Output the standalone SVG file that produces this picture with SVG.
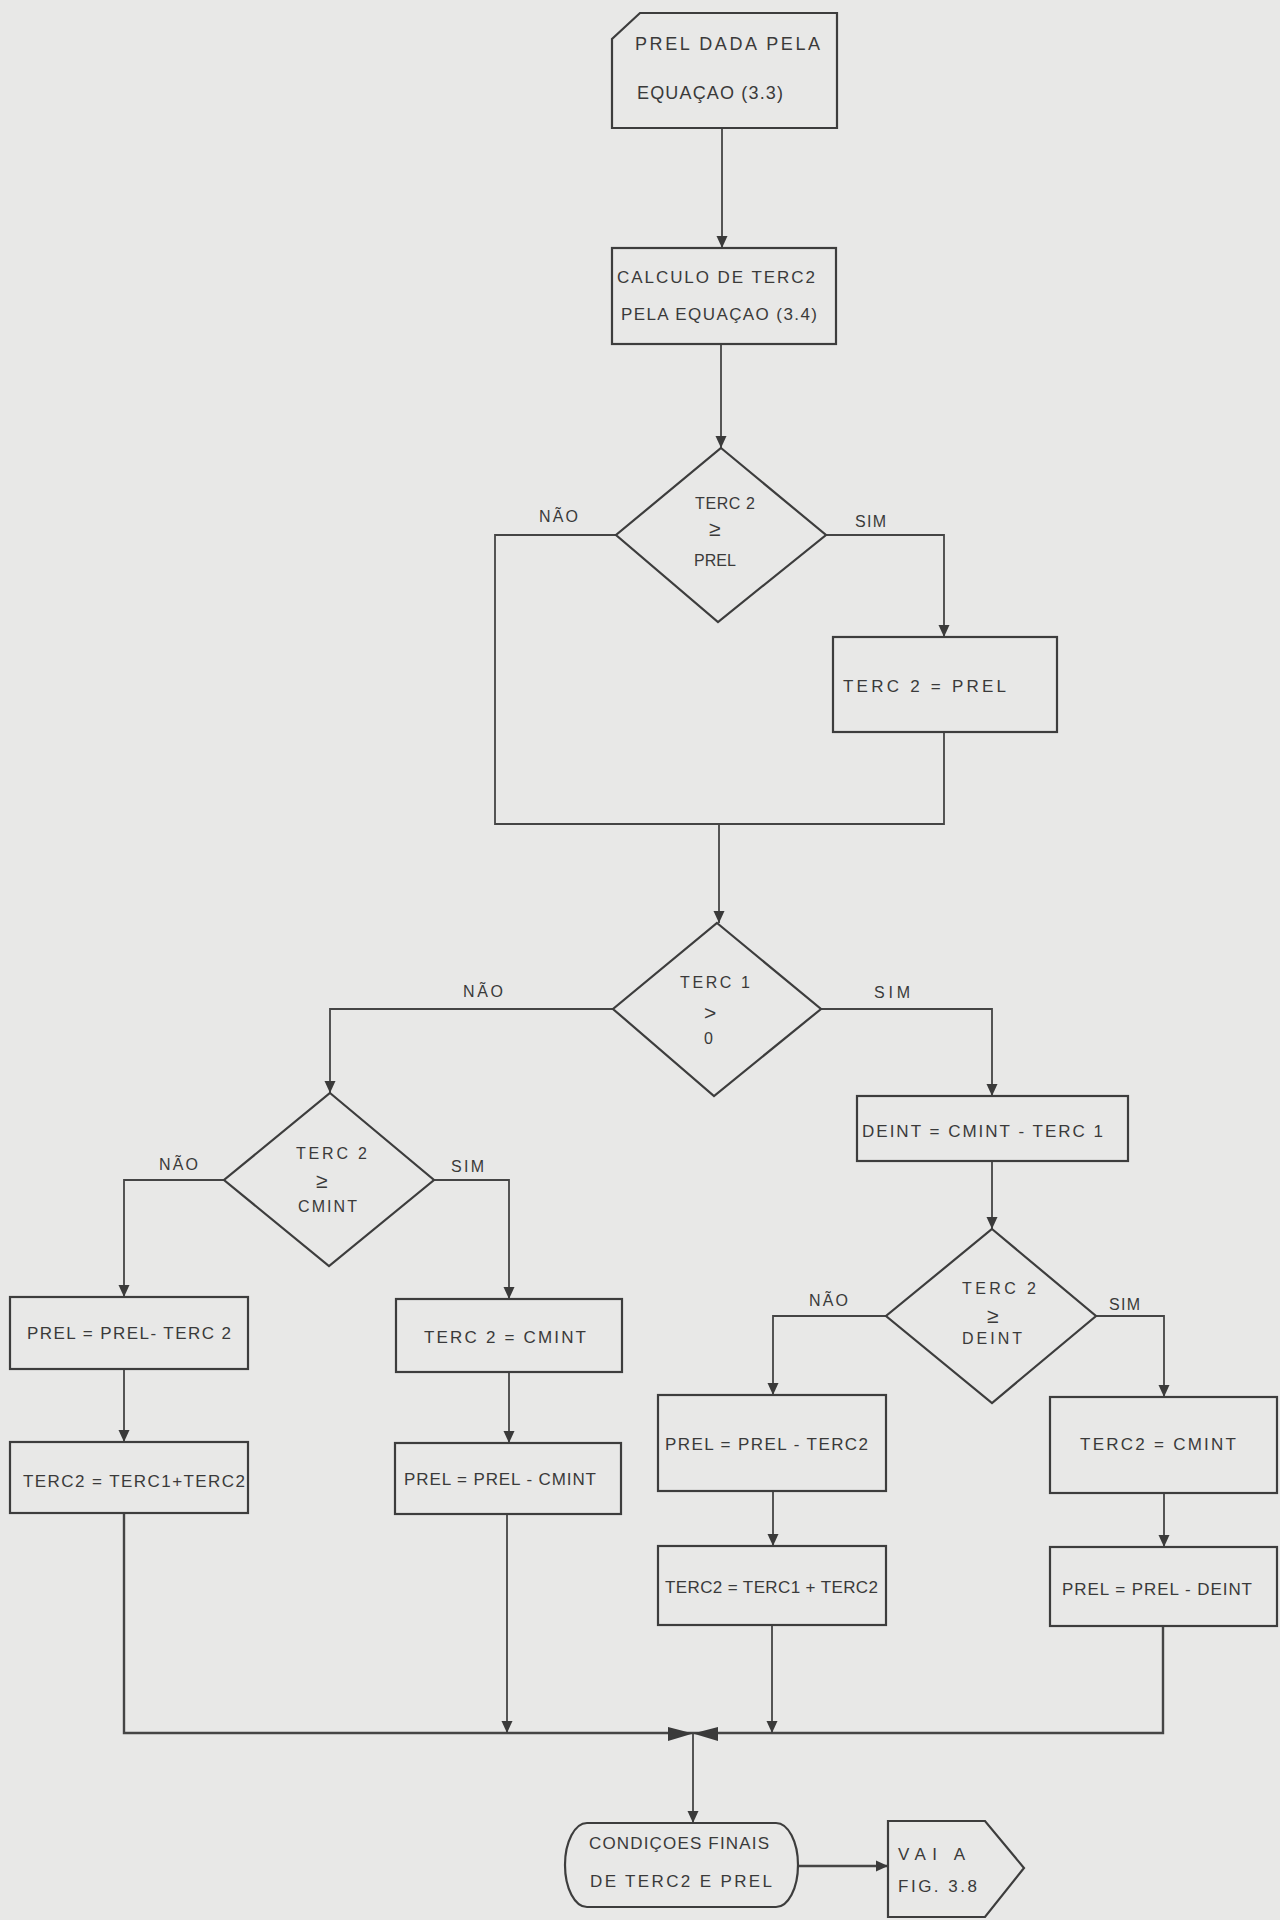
<svg xmlns="http://www.w3.org/2000/svg" width="1280" height="1920" viewBox="0 0 1280 1920">
<defs>
<style>
.bg{fill:#e8e8e7}
.n{fill:none;stroke:#3d3d3d;stroke-width:2.2;stroke-linejoin:miter}
.c{fill:none;stroke:#454545;stroke-width:1.8}
.t{font-family:"Liberation Sans",Arial,sans-serif;font-size:17px;fill:#3a3a3a}
.h{font-family:"Liberation Sans",Arial,sans-serif;font-size:18px;fill:#3a3a3a}
.d{font-family:"Liberation Sans",Arial,sans-serif;font-size:16px;fill:#3a3a3a}
.s{font-family:"Liberation Sans",Arial,sans-serif;font-size:21px;fill:#3a3a3a}
.l{font-family:"Liberation Sans",Arial,sans-serif;font-size:16px;fill:#3a3a3a}
</style>
<marker id="ah" markerWidth="12" markerHeight="12" refX="12" refY="6" orient="auto" markerUnits="userSpaceOnUse">
<path d="M0,0.5 L12,6 L0,11.5 Z" fill="#3a3a3a"/>
</marker>
</defs>
<rect class="bg" x="0" y="0" width="1280" height="1920"/>

<g id="connectors">
<line class="c" x1="722" y1="128" x2="722" y2="248" marker-end="url(#ah)"/>
<line class="c" x1="721" y1="344" x2="721" y2="448" marker-end="url(#ah)"/>
<polyline class="c" points="616,535 495,535 495,824 944,824 944,732"/>
<polyline class="c" points="826,535 944,535 944,637" marker-end="url(#ah)"/>
<line class="c" x1="719" y1="824" x2="719" y2="923" marker-end="url(#ah)"/>
<polyline class="c" points="613,1009 330,1009 330,1093" marker-end="url(#ah)"/>
<polyline class="c" points="821,1009 992,1009 992,1096" marker-end="url(#ah)"/>
<line class="c" x1="992" y1="1161" x2="992" y2="1229" marker-end="url(#ah)"/>
<polyline class="c" points="224,1180 124,1180 124,1297" marker-end="url(#ah)"/>
<polyline class="c" points="434,1180 509,1180 509,1299" marker-end="url(#ah)"/>
<line class="c" x1="124" y1="1369" x2="124" y2="1442" marker-end="url(#ah)"/>
<line class="c" x1="509" y1="1372" x2="509" y2="1443" marker-end="url(#ah)"/>
<polyline class="c" points="886,1316 773,1316 773,1395" marker-end="url(#ah)"/>
<polyline class="c" points="1096,1316 1164,1316 1164,1397" marker-end="url(#ah)"/>
<line class="c" x1="773" y1="1491" x2="773" y2="1546" marker-end="url(#ah)"/>
<line class="c" x1="1164" y1="1493" x2="1164" y2="1547" marker-end="url(#ah)"/>
<polyline class="c" points="124,1513 124,1733 1163,1733 1163,1626" style="stroke-width:2.4"/>
<line class="c" x1="507" y1="1514" x2="507" y2="1733" marker-end="url(#ah)"/>
<line class="c" x1="772" y1="1625" x2="772" y2="1733" marker-end="url(#ah)"/>
<path d="M668,1727 L693,1733.5 L668,1741 Z M718,1727 L693,1733.5 L718,1741 Z" fill="#3a3a3a"/>
<line class="c" x1="693" y1="1734" x2="693" y2="1823" marker-end="url(#ah)"/>
<line class="c" x1="798" y1="1866" x2="888" y2="1866" marker-end="url(#ah)" style="stroke-width:2.4"/>
</g>

<g id="start">
<polygon class="n" points="640,13 837,13 837,128 612,128 612,39"/>
<text class="h" x="635" y="50" textLength="185" lengthAdjust="spacing">PREL DADA PELA</text>
<text class="h" x="637" y="99" textLength="146" lengthAdjust="spacing">EQUAÇAO (3.3)</text>
</g>

<g id="calc-terc2">
<rect class="n" x="612" y="248" width="224" height="96"/>
<text class="t" x="617" y="283" textLength="198" lengthAdjust="spacing">CALCULO DE TERC2</text>
<text class="t" x="621" y="320" textLength="196" lengthAdjust="spacing">PELA EQUAÇAO (3.4)</text>
</g>

<g id="dec1">
<polygon class="n" points="721,448 826,535 718,622 616,535"/>
<text class="d" x="695" y="509" textLength="60" lengthAdjust="spacing">TERC 2</text>
<text class="s" x="709" y="536">≥</text>
<text class="d" x="694" y="566" textLength="42" lengthAdjust="spacing">PREL</text>
<text class="l" x="539" y="522" textLength="39" lengthAdjust="spacing">NÃO</text>
<text class="l" x="855" y="527" textLength="31" lengthAdjust="spacing">SIM</text>
</g>

<g id="terc2-prel">
<rect class="n" x="833" y="637" width="224" height="95"/>
<text class="t" x="843" y="692" textLength="163" lengthAdjust="spacing">TERC 2  =  PREL</text>
</g>

<g id="dec2">
<polygon class="n" points="717,923 821,1009 714,1096 613,1009"/>
<text class="d" x="680" y="988" textLength="70" lengthAdjust="spacing">TERC 1</text>
<text class="s" x="704" y="1020">&gt;</text>
<text class="d" x="704" y="1044">0</text>
<text class="l" x="463" y="997" textLength="40" lengthAdjust="spacing">NÃO</text>
<text class="l" x="874" y="998" textLength="36" lengthAdjust="spacing">SIM</text>
</g>

<g id="deint">
<rect class="n" x="857" y="1096" width="271" height="65"/>
<text class="t" x="862" y="1137" textLength="241" lengthAdjust="spacing">DEINT = CMINT - TERC 1</text>
</g>

<g id="dec3">
<polygon class="n" points="330,1093 434,1180 329,1266 224,1180"/>
<text class="d" x="296" y="1159" textLength="71" lengthAdjust="spacing">TERC 2</text>
<text class="s" x="316" y="1188">≥</text>
<text class="d" x="298" y="1212" textLength="59" lengthAdjust="spacing">CMINT</text>
<text class="l" x="159" y="1170" textLength="39" lengthAdjust="spacing">NÃO</text>
<text class="l" x="451" y="1172" textLength="33" lengthAdjust="spacing">SIM</text>
</g>

<g id="l1">
<rect class="n" x="10" y="1297" width="238" height="72"/>
<text class="t" x="27" y="1339" textLength="204" lengthAdjust="spacing">PREL = PREL- TERC 2</text>
</g>
<g id="l2">
<rect class="n" x="10" y="1442" width="238" height="71"/>
<text class="t" x="23" y="1487" textLength="222" lengthAdjust="spacing">TERC2 = TERC1+TERC2</text>
</g>
<g id="r1">
<rect class="n" x="396" y="1299" width="226" height="73"/>
<text class="t" x="424" y="1343" textLength="162" lengthAdjust="spacing">TERC 2 = CMINT</text>
</g>
<g id="r2">
<rect class="n" x="395" y="1443" width="226" height="71"/>
<text class="t" x="404" y="1485" textLength="192" lengthAdjust="spacing">PREL = PREL - CMINT</text>
</g>

<g id="dec4">
<polygon class="n" points="992,1229 1096,1316 992,1403 886,1316"/>
<text class="d" x="962" y="1294" textLength="74" lengthAdjust="spacing">TERC 2</text>
<text class="s" x="987" y="1323">≥</text>
<text class="d" x="962" y="1344" textLength="60" lengthAdjust="spacing">DEINT</text>
<text class="l" x="809" y="1306" textLength="39" lengthAdjust="spacing">NÃO</text>
<text class="l" x="1109" y="1310" textLength="31" lengthAdjust="spacing">SIM</text>
</g>

<g id="l3">
<rect class="n" x="658" y="1395" width="228" height="96"/>
<text class="t" x="665" y="1450" textLength="203" lengthAdjust="spacing">PREL = PREL - TERC2</text>
</g>
<g id="l4">
<rect class="n" x="658" y="1546" width="228" height="79"/>
<text class="t" x="665" y="1593" textLength="213" lengthAdjust="spacing">TERC2 = TERC1 + TERC2</text>
</g>
<g id="r3">
<rect class="n" x="1050" y="1397" width="227" height="96"/>
<text class="t" x="1080" y="1450" textLength="156" lengthAdjust="spacing">TERC2  =  CMINT</text>
</g>
<g id="r4">
<rect class="n" x="1050" y="1547" width="227" height="79"/>
<text class="t" x="1062" y="1595" textLength="190" lengthAdjust="spacing">PREL = PREL - DEINT</text>
</g>

<g id="final">
<path class="n" d="M587,1823 H776 A22,42 0 0 1 776,1907 H587 A22,42 0 0 1 587,1823 Z"/>
<text class="t" x="589" y="1849" textLength="180" lengthAdjust="spacing">CONDIÇOES FINAIS</text>
<text class="t" x="590" y="1887" textLength="182" lengthAdjust="spacing">DE TERC2 E PREL</text>
</g>

<g id="goto">
<polygon class="n" points="888,1821 985,1821 1024,1868 985,1917 888,1917"/>
<text class="t" x="898" y="1860" textLength="67" lengthAdjust="spacing">VAI  A</text>
<text class="t" x="898" y="1892" textLength="79" lengthAdjust="spacing">FIG. 3.8</text>
</g>
</svg>
